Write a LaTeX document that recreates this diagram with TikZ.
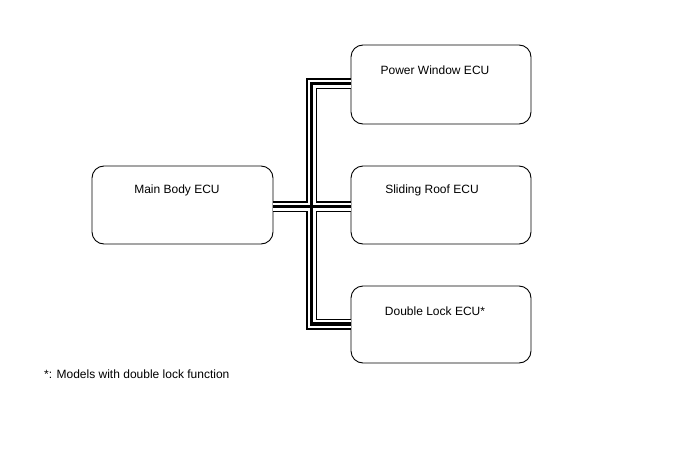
\documentclass[tikz,border=0pt]{standalone}
\usepackage{fontspec}
\setmainfont{Liberation Sans}
\begin{document}
\begin{tikzpicture}[x=1pt,y=-1pt,
  ecubox/.style={draw=black,line width=0.9pt,rounded corners=12pt},
  lbl/.style={font=\fontsize{12}{14}\selectfont,inner sep=0pt,anchor=base},
  busa/.style={line width=11pt,draw=black},
  busb/.style={line width=8pt,draw=white},
  busc/.style={line width=3.6pt,draw=black}]
\useasboundingbox (0,0) rectangle (688,463);
\path[ecubox] (92,166) rectangle (273,244);
\path[ecubox] (351,45) rectangle (531,124);
\path[ecubox] (351,166) rectangle (531,244);
\path[ecubox] (351,286) rectangle (531,363);
\coordinate (m) at (273,206.5);
\coordinate (t) at (311.5,83.5);
\coordinate (b) at (311.5,324);
\coordinate (pw) at (351,83.5);
\coordinate (sr) at (351,206.5);
\coordinate (dl) at (351,324);
\foreach \s in {busa,busb,busc}{
  \draw[\s] (m) -- (sr);
  \draw[\s] (pw) -- (t) -- (b) -- (dl);
}
\node[lbl] (lm) at (177,193) {Main Body ECU};
\node[lbl] (lp) at (435,74) {Power Window ECU};
\node[lbl] (ls) at (432,193) {Sliding Roof ECU};
\node[lbl] (ld) at (435,315) {Double Lock ECU*};
\node[lbl,anchor=base west] (fn) at (44,378) {*: Models with double lock function};
\end{tikzpicture}
\end{document}
